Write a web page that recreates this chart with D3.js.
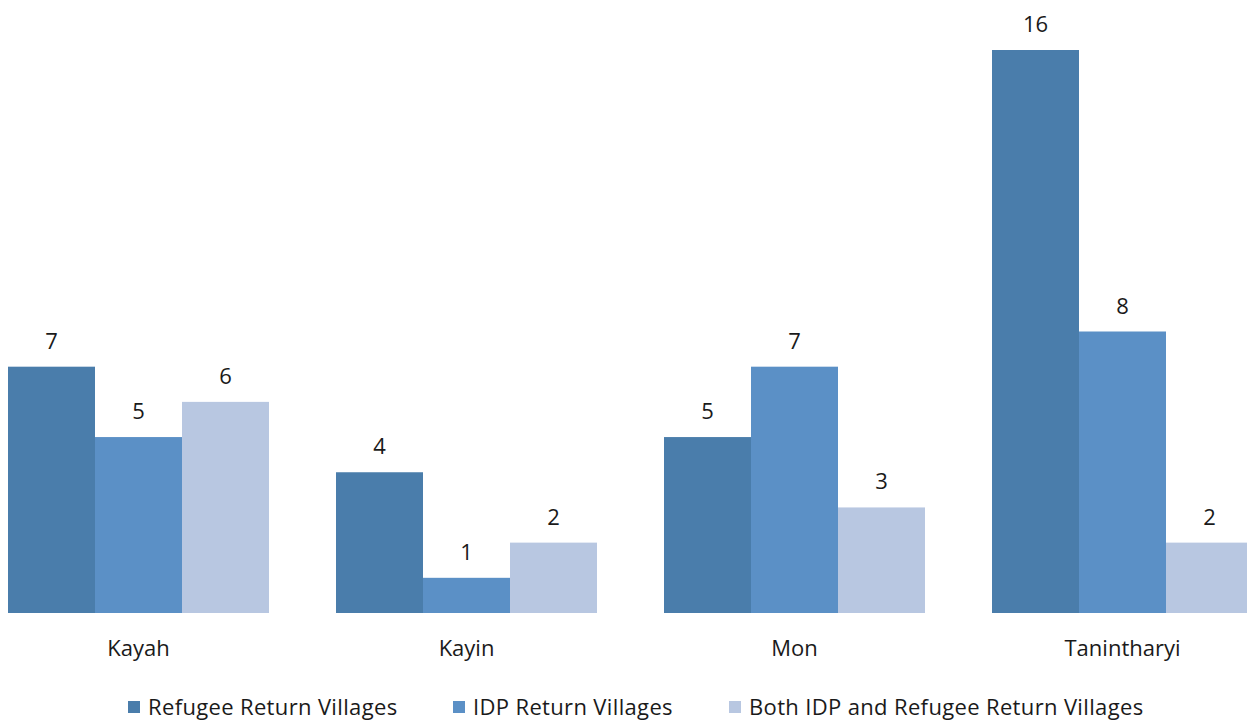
<!DOCTYPE html>
<html><head><meta charset="utf-8">
<script src="https://cdn.jsdelivr.net/npm/d3@7"></script>
<style>html,body{margin:0;padding:0;background:#fff;overflow:hidden}svg{display:block}text{font-family:"Open Sans",Lato,sans-serif;fill:#1a1a1a}</style>
</head><body>
<svg id="chart" width="1247" height="722"></svg>
<script>
const categories = ["Kayah", "Kayin", "Mon", "Tanintharyi"];
const seriesNames = ["Refugee Return Villages", "IDP Return Villages", "Both IDP and Refugee Return Villages"];
const refugee = [7, 4, 5, 16];
const idp = [5, 1, 7, 8];
const both = [6, 2, 3, 2];
const colors = ["#4a7dab", "#5b90c6", "#b8c7e1"];

const seriesValues = [refugee, idp, both];
const svg = d3.select("#chart");
const FS = 22;
const baseY = 613, topY = 50;
const pi = 67/328;
const x0 = d3.scaleBand().domain(categories).range([8 - 328*pi/2, 8 - 328*pi/2 + 4*328]).paddingInner(pi).paddingOuter(pi/2);
const x1 = d3.scaleBand().domain(d3.range(3)).range([0, x0.bandwidth()]).padding(0);
const y = d3.scaleLinear().domain([0, 16]).range([baseY, topY]);

const data = categories.map((c, i) => ({c, vals: seriesValues.map((s, k) => ({k, v: s[i]}))}));
const g = svg.append("g");
const grp = g.selectAll("g.grp").data(data).join("g").attr("transform", d => `translate(${x0(d.c)},0)`);
grp.selectAll("rect").data(d => d.vals).join("rect")
  .attr("x", d => x1(d.k)).attr("width", x1.bandwidth())
  .attr("y", d => y(d.v)).attr("height", d => baseY - y(d.v))
  .attr("fill", d => colors[d.k]);
grp.selectAll("text.val").data(d => d.vals).join("text").attr("class","val")
  .attr("x", d => x1(d.k) + x1.bandwidth()/2).attr("y", d => y(d.v) - 18)
  .attr("text-anchor", "middle").attr("font-size", FS).text(d => d.v);

const xAxis = d3.axisBottom(x0).tickSize(0).tickPadding(0);
const ax = svg.append("g").attr("transform", `translate(0,${baseY})`).call(xAxis);
ax.select(".domain").remove();
ax.selectAll("text").attr("font-size", FS).attr("dy", null).attr("y", 43).style("font-family","'Open Sans',Lato,sans-serif").attr("fill","#1a1a1a");

const legX = [128, 453, 729];
const leg = svg.append("g").selectAll("g").data(seriesNames).join("g")
  .attr("transform", (d,i) => `translate(${legX[i]},701)`);
leg.append("rect").attr("width", 12).attr("height", 12).attr("fill", (d,i) => colors[i]);
leg.append("text").attr("x", 20).attr("y", 14).attr("font-size", FS).attr("letter-spacing", 0.35).text(d => d);
</script>
</body></html>
